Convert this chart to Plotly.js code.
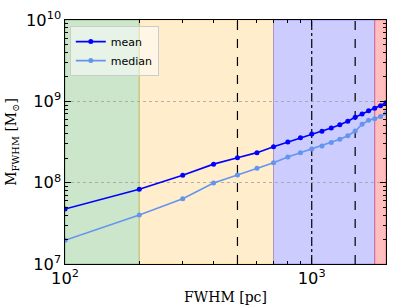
<!DOCTYPE html>
<html>
<head>
<meta charset="utf-8">
<script src="https://cdn.plot.ly/plotly-3.0.1.min.js"></script>
<style>html,body{margin:0;padding:0;background:#fff;}#chart{width:407px;height:305px;}</style>
</head>
<body>
<div id="chart"></div>
<script>
// FWHM values [pc]
const fwhm = [100, 200, 300, 400, 500, 600, 700, 800, 900, 1000, 1100, 1200, 1300, 1400, 1500, 1600, 1700, 1800, 1900, 2000];
// Mean mass [Msun]
const meanMass = [4.74e7, 8.28e7, 1.23e8, 1.69e8, 2.03e8, 2.34e8, 2.77e8, 3.16e8, 3.57e8, 3.97e8, 4.28e8, 4.70e8, 5.16e8, 5.68e8, 6.36e8, 6.99e8, 7.67e8, 8.2e8, 8.83e8, 9.6e8];
// Median mass [Msun]
const medianMass = [1.96e7, 4.0e7, 6.35e7, 9.9e7, 1.24e8, 1.5e8, 1.76e8, 2.07e8, 2.34e8, 2.59e8, 2.82e8, 3.12e8, 3.41e8, 3.78e8, 4.31e8, 5.22e8, 5.85e8, 6.1e8, 6.5e8, 7.13e8];
// Shaded regions (start, end, colour)
const regionStart = [100, 200, 700, 1800];
const regionEnd = [200, 700, 1800, 2000];
const regionFill = ['rgba(0,128,0,0.2)', 'rgba(255,165,0,0.2)', 'rgba(0,0,255,0.2)', 'rgba(255,0,0,0.25)'];
const regionEdge = ['rgba(0,128,0,0.3)', 'rgba(255,165,0,0.3)', 'rgba(0,0,255,0.25)', 'rgba(255,0,0,0.35)'];
// Vertical reference lines
const vlineX = [500, 1000, 1500];
const vlineDash = ['dash', 'dashdot', 'dash'];

const shapes = [];
for (let i = 0; i < regionStart.length; i++) {
  shapes.push({type: 'rect', xref: 'x', yref: 'paper', x0: regionStart[i], x1: regionEnd[i], y0: 0, y1: 1,
    fillcolor: regionFill[i], line: {color: regionEdge[i], width: 1}, layer: 'below'});
}
for (let i = 0; i < vlineX.length; i++) {
  shapes.push({type: 'line', xref: 'x', yref: 'paper', x0: vlineX[i], x1: vlineX[i], y0: 0, y1: 1,
    line: {color: 'black', width: 1.2, dash: vlineDash[i]}, layer: 'between'});
}

const traces = [
  {x: fwhm, y: meanMass, name: 'mean', mode: 'lines+markers', line: {color: '#0000ff', width: 1.6}, marker: {color: '#0000ff', size: 5}},
  {x: fwhm, y: medianMass, name: 'median', mode: 'lines+markers', line: {color: '#6495ed', width: 1.6}, marker: {color: '#6495ed', size: 5}}
];

const axisCommon = {
  type: 'log', showline: true, linecolor: 'black', linewidth: 1.2, mirror: 'allticks',
  ticks: 'inside', ticklen: 6, tickwidth: 1, tickcolor: 'black',
  exponentformat: 'power', dtick: 1, zeroline: false,
  tickfont: {family: 'DejaVu Sans', size: 13, color: 'black'},
  minor: {ticks: 'inside', ticklen: 3, tickcolor: 'black', tickwidth: 1, showgrid: false}
};

const layout = {
  width: 407, height: 305,
  margin: {l: 65, r: 21, t: 20, b: 41},
  paper_bgcolor: 'white', plot_bgcolor: 'white',
  showlegend: true,
  legend: {x: 0.015, y: 0.975, xanchor: 'left', yanchor: 'top', bgcolor: 'rgba(255,255,255,0.5)',
    bordercolor: '#cccccc', borderwidth: 1, font: {family: 'DejaVu Sans', size: 11, color: 'black'},
    tracegroupgap: 0, itemwidth: 30},
  xaxis: Object.assign({}, axisCommon, {
    range: [2, Math.log10(2000)], showgrid: false,
    title: {text: 'FWHM [pc]', font: {family: 'DejaVu Serif', size: 14, color: 'black'}, standoff: 6}
  }),
  yaxis: Object.assign({}, axisCommon, {
    range: [7, 10], showgrid: true, gridcolor: '#a0a0a0', griddash: 'dot', gridwidth: 0.8,
    title: {text: 'M<sub>FWHM</sub> [M<sub>⊙</sub>]', font: {family: 'DejaVu Serif', size: 14, color: 'black'}, standoff: 6}
  }),
  shapes: shapes
};

Plotly.newPlot('chart', traces, layout, {displayModeBar: false, staticPlot: true});
</script>
</body>
</html>
